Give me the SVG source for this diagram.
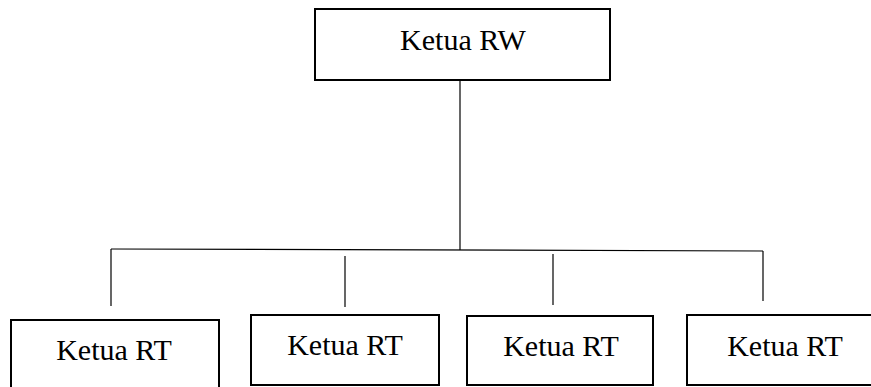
<svg xmlns="http://www.w3.org/2000/svg" width="871" height="387" viewBox="0 0 871 387">
<style>
.box{fill:#fff;stroke:#000;stroke-width:2}
.lbl{font-family:"Liberation Serif","Times New Roman",serif;font-size:30px;fill:#000;text-anchor:middle}
.ln{stroke:#000;stroke-width:1.2;fill:none}
</style>
<rect width="871" height="387" fill="#fff"/>
<g id="connectors">
<line class="ln" x1="460" y1="80" x2="460" y2="250"/>
<line class="ln" x1="111" y1="249" x2="763" y2="251"/>
<line class="ln" x1="111" y1="249" x2="111" y2="306"/>
<line class="ln" x1="345" y1="256" x2="345" y2="307"/>
<line class="ln" x1="553" y1="254" x2="553" y2="305"/>
<line class="ln" x1="763" y1="251" x2="763" y2="301"/>
</g>
<g id="rw">
<rect class="box" x="315" y="9" width="295" height="71"/>
<text class="lbl" x="463" y="50">Ketua RW</text>
</g>
<g id="rt1">
<rect class="box" x="11" y="320" width="208" height="80"/>
<text class="lbl" x="114" y="360">Ketua RT</text>
</g>
<g id="rt2">
<rect class="box" x="251" y="315" width="188" height="70"/>
<text class="lbl" x="345" y="355">Ketua RT</text>
</g>
<g id="rt3">
<rect class="box" x="467" y="316" width="186" height="69"/>
<text class="lbl" x="561" y="356">Ketua RT</text>
</g>
<g id="rt4">
<rect class="box" x="687" y="315" width="200" height="70"/>
<text class="lbl" x="785" y="356">Ketua RT</text>
</g>
</svg>
